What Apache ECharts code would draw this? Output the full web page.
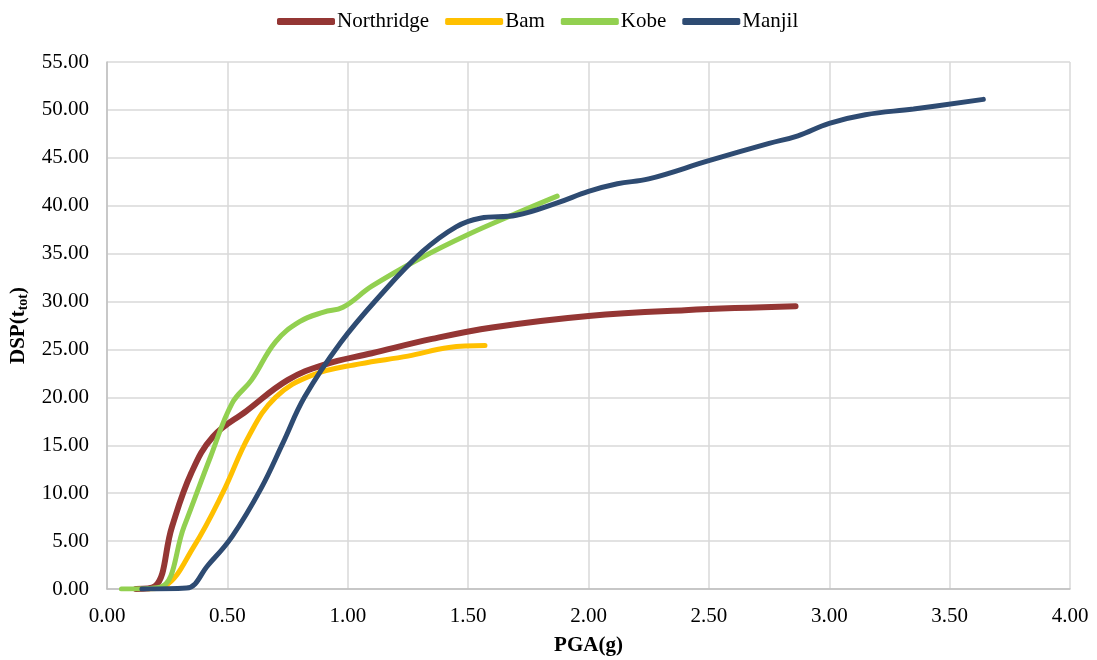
<!DOCTYPE html>
<html>
<head>
<meta charset="utf-8">
<script src="https://cdn.jsdelivr.net/npm/echarts@6/dist/echarts.min.js"></script>
<style>html,body{margin:0;padding:0;background:#fff}#c{width:1097px;height:660px}</style>
</head>
<body>
<div id="c"></div>
<script>
const seriesNames = ['Northridge', 'Bam', 'Kobe', 'Manjil'];
const northridge = [[0.12,0],[0.20,0.3],[0.27,6.5],[0.35,12.1],[0.44,15.9],[0.58,18.6],[0.75,21.8],[0.9,23.4],[1.1,24.6],[1.35,26.1],[1.6,27.3],[2.0,28.5],[2.4,29.1],[2.86,29.5]];
const bam = [[0.17,0],[0.24,0.3],[0.36,4.4],[0.48,10],[0.59,16],[0.7,20],[0.85,22.3],[1.05,23.5],[1.25,24.3],[1.42,25.2],[1.57,25.4]];
const kobe = [[0.06,0],[0.22,0.2],[0.32,6.5],[0.43,13.8],[0.52,19.4],[0.6,21.8],[0.7,25.8],[0.8,27.9],[0.9,28.9],[0.98,29.4],[1.1,31.6],[1.3,34.5],[1.5,37],[1.7,39.2],[1.87,41]];
const manjil = [[0.145,0],[0.33,0.1],[0.42,2.5],[0.52,5.5],[0.64,10.5],[0.73,15.2],[0.82,20],[0.97,25.7],[1.13,30.5],[1.31,35.2],[1.45,37.8],[1.55,38.7],[1.7,39],[1.87,40.3],[2.0,41.5],[2.12,42.3],[2.25,42.8],[2.5,44.7],[2.75,46.5],[2.87,47.3],[3.0,48.6],[3.15,49.5],[3.35,50.1],[3.64,51.1]];
const colors = ['#943634', '#FFC000', '#92D050', '#2E4B72'];
const allData = [northridge, bam, kobe, manjil];

const chart = echarts.init(document.getElementById('c'));
const font = '"Liberation Serif", "Times New Roman", serif';
chart.setOption({
  animation: false,
  textStyle: { fontFamily: font },
  legend: {
    top: 6, left: 272,
    itemWidth: 58, itemHeight: 7, itemGap: 16,
    icon: 'roundRect',
    textStyle: { fontFamily: font, fontSize: 21, color: '#000', padding: [0, 0, 0, -3] },
    data: seriesNames
  },
  grid: { left: 107, right: 27, top: 62, bottom: 71, containLabel: false, outerBoundsMode: 'none' },
  xAxis: {
    type: 'value', min: 0, max: 4, interval: 0.5,
    name: 'PGA(g)', nameLocation: 'middle', nameGap: 46,
    nameTextStyle: { fontFamily: font, fontSize: 21, fontWeight: 'bold', color: '#000' },
    axisLine: { show: true, lineStyle: { color: '#BFBFBF', width: 1.5 } },
    axisTick: { show: false },
    axisLabel: { fontFamily: font, fontSize: 21, color: '#000', margin: 17, formatter: v => v.toFixed(2) },
    splitLine: { show: true, lineStyle: { color: '#D9D9D9', width: 1.5 } }
  },
  yAxis: {
    type: 'value', min: 0, max: 55, interval: 5,
    name: '{a|DSP(t}{b|tot}{a|)}', nameLocation: 'middle', nameGap: 73, nameRotate: 90,
    nameTextStyle: {
      rich: {
        a: { fontFamily: font, fontSize: 21, fontWeight: 'bold', color: '#000' },
        b: { fontFamily: font, fontSize: 14, fontWeight: 'bold', color: '#000', padding: [10, 0, 0, 0] }
      }
    },
    axisLine: { show: true, lineStyle: { color: '#BFBFBF', width: 1.5 } },
    axisTick: { show: false },
    axisLabel: { fontFamily: font, fontSize: 21, color: '#000', margin: 18, formatter: v => v.toFixed(2) },
    splitLine: { show: true, lineStyle: { color: '#D9D9D9', width: 1.5 } }
  },
  series: seriesNames.map((n, i) => ({
    name: n, type: 'line', data: allData[i],
    smooth: 0.4,
    showSymbol: false, symbol: 'none',
    lineStyle: { color: colors[i], width: i === 0 ? 6 : 5, cap: 'round' },
    itemStyle: { color: colors[i] }
  }))
});
</script>
</body>
</html>
